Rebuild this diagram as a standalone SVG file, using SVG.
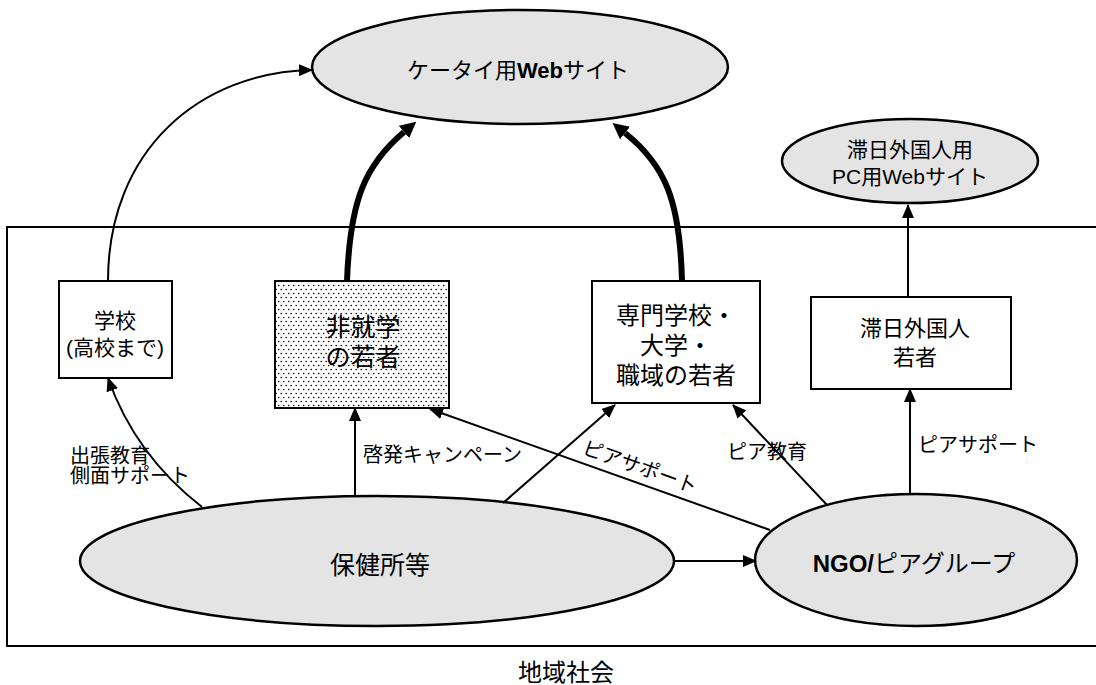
<svg xmlns="http://www.w3.org/2000/svg" width="1096" height="685" viewBox="0 0 1096 685">
<style>
text{font-family:"Liberation Sans","Noto Sans CJK JP",sans-serif;fill:#000;}
.c{text-anchor:middle;dominant-baseline:central;}
.l{text-anchor:start;dominant-baseline:central;}
.ell{fill:#e4e4e4;stroke:#000;stroke-width:2.5;}
.box{fill:#fff;stroke:#000;stroke-width:2;}
.ln{fill:none;stroke:#000;stroke-width:2;marker-end:url(#ah);}
.thick{fill:none;stroke:#000;stroke-width:6;marker-end:url(#ahb);}
</style>
<defs>
<marker id="ah" markerUnits="userSpaceOnUse" markerWidth="14" markerHeight="12" refX="13" refY="6" orient="auto"><path d="M0,0 L14,6 L0,12 z" fill="#000"/></marker>
<marker id="ahb" markerUnits="userSpaceOnUse" markerWidth="16" markerHeight="16" refX="0" refY="8" orient="auto"><path d="M0,0 L16,8 L0,16 z" fill="#000"/></marker>
<pattern id="dots" width="5" height="8" patternUnits="userSpaceOnUse"><rect width="5" height="8" fill="#fff"/><circle cx="1.2" cy="1.5" r="0.8" fill="#000"/><circle cx="3.7" cy="5.5" r="0.8" fill="#000"/></pattern>
</defs>
<rect width="1096" height="685" fill="#fff"/>

<g id="community">
<rect x="7" y="227" width="1100" height="419" fill="none" stroke="#000" stroke-width="2"/>
<text class="c" x="566" y="672" font-size="24">地域社会</text>
</g>

<g id="mobile-site">
<ellipse class="ell" cx="520" cy="67" rx="208" ry="57"/>
<text class="c" x="518" y="70" font-size="22">ケータイ用<tspan font-weight="bold">Web</tspan>サイト</text>
</g>

<g id="pc-site">
<ellipse class="ell" cx="910" cy="161" rx="128" ry="42"/>
<text class="c" x="910" y="149" font-size="21">滞日外国人用</text>
<text class="c" x="910" y="176" font-size="21">PC用Webサイト</text>
</g>

<g id="school">
<rect class="box" x="59" y="281" width="113" height="97"/>
<text class="c" x="115" y="320" font-size="21">学校</text>
<text class="c" x="115" y="347" font-size="21">(高校まで)</text>
</g>

<g id="non-school-youth">
<rect x="275" y="281" width="174" height="127" fill="url(#dots)" stroke="#000" stroke-width="2"/>
<text class="c" x="363" y="327" font-size="25">非就学</text>
<text class="c" x="363" y="357" font-size="25">の若者</text>
</g>

<g id="college-youth">
<rect class="box" x="592" y="281" width="168" height="122"/>
<text class="c" x="676" y="315" font-size="24">専門学校・</text>
<text class="c" x="676" y="345" font-size="24">大学・</text>
<text class="c" x="676" y="375" font-size="24">職域の若者</text>
</g>

<g id="foreign-youth">
<rect class="box" x="811" y="297" width="200" height="92"/>
<text class="c" x="915" y="328" font-size="22">滞日外国人</text>
<text class="c" x="915" y="357" font-size="22">若者</text>
</g>

<g id="health-center">
<ellipse class="ell" cx="377" cy="561" rx="297" ry="65"/>
<text class="c" x="380" y="565" font-size="25">保健所等</text>
</g>

<g id="ngo">
<ellipse class="ell" cx="916" cy="560" rx="161" ry="66"/>
<text class="c" x="914" y="563" font-size="24"><tspan font-weight="bold">NGO/</tspan>ピアグループ</text>
</g>

<g id="connectors">
<path class="ln" d="M108,281 C 108,150 200,72 312,70"/>
<path class="thick" d="M347,281 C 350,200 365,165 404,132"/>
<path class="thick" d="M682,281 C 680,200 665,165 625,133"/>
<path class="ln" d="M908,297 L908,205"/>
<path class="ln" d="M202,507 Q 135,455 108,378"/>
<path class="ln" d="M355,496 L355,408"/>
<path class="ln" d="M503,503 L615,405"/>
<path class="ln" d="M770,530 L430,409"/>
<path class="ln" d="M827,505 L733,405"/>
<path class="ln" d="M910,494 L910,389"/>
<path class="ln" d="M674,561 L756,561"/>
</g>

<g id="labels">
<text class="l" x="70" y="456" font-size="20">出張教育</text>
<text class="l" x="70" y="476" font-size="20">側面サポート</text>
<text class="l" x="363" y="455" font-size="20">啓発キャンペーン</text>
<text class="c" x="640" y="467" font-size="20" transform="rotate(19.6 640 467)">ピアサポート</text>
<text class="l" x="727" y="452" font-size="20">ピア教育</text>
<text class="l" x="918" y="445" font-size="20">ピアサポート</text>
</g>
</svg>
